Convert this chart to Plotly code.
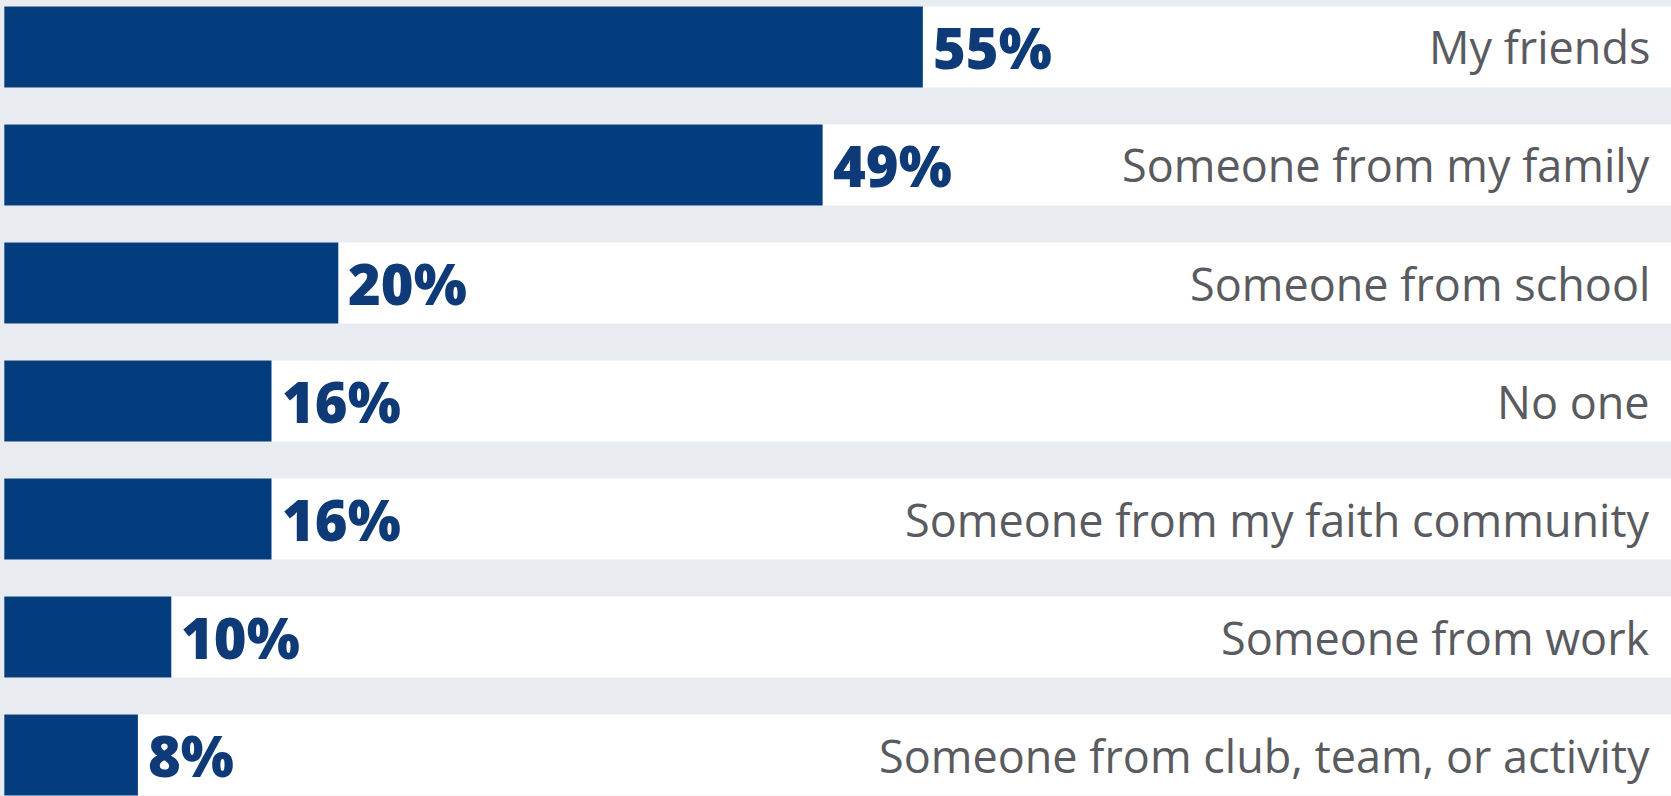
import plotly.graph_objects as go

categories = ["My friends", "Someone from my family", "Someone from school", "No one",
              "Someone from my faith community", "Someone from work",
              "Someone from club, team, or activity"]
values = [55, 49, 20, 16, 16, 10, 8]
value_labels = ["55%", "49%", "20%", "16%", "16%", "10%", "8%"]

BAR = "#033d7e"
GRAY_BG = "#e8ebef"
LABEL_BLUE = "#0e3a78"
TEXT_GRAY = "#5a5b60"

ypos = list(range(len(categories)))

fig = go.Figure()
fig.add_trace(go.Bar(y=ypos, x=[100] * len(categories), orientation="h",
                     marker=dict(color="white", line=dict(width=0)),
                     hoverinfo="skip", showlegend=False))
fig.add_trace(go.Bar(y=ypos, x=values, orientation="h",
                     marker=dict(color=BAR, line=dict(width=0)),
                     showlegend=False))

for i, (v, lab, cat) in enumerate(zip(values, value_labels, categories)):
    fig.add_annotation(x=v, y=i, text=lab, xref="x", yref="y", xanchor="left",
                       yanchor="middle", xshift=8, yshift=0, showarrow=False,
                       font=dict(family="Open Sans", size=56, color=LABEL_BLUE, weight=800))
    fig.add_annotation(x=1652 / 1671, y=i, text=cat, xref="paper", yref="y",
                       xanchor="right", yanchor="middle", showarrow=False,
                       font=dict(family="Open Sans", size=45, color=TEXT_GRAY, weight=500))

fig.update_layout(
    width=1671, height=796,
    margin=dict(l=0, r=0, t=0, b=0),
    barmode="overlay", bargap=0.314,
    plot_bgcolor=GRAY_BG, paper_bgcolor=GRAY_BG,
    xaxis=dict(range=[-0.257, 99.8], visible=False, fixedrange=True),
    yaxis=dict(range=[6.347, -0.398], visible=False, fixedrange=True),
)

fig.write_html("out.html")
